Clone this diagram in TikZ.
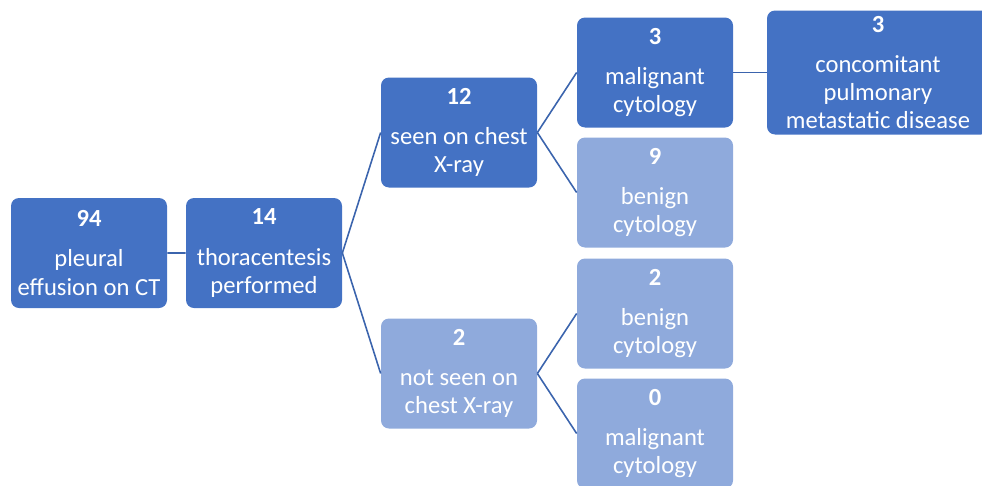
\documentclass[tikz,border=0pt]{standalone}
\usepackage{fontspec}
\setmainfont{Carlito}
\usepackage{xcolor}
\usepackage{tikz}
\usetikzlibrary{positioning,trees}
\definecolor{darkblue}{HTML}{4472C4}
\definecolor{lightblue}{HTML}{8FAADC}
\definecolor{linkblue}{HTML}{3B64AD}
\newcommand{\cnt}[1]{\textbf{#1}\\[0.24cm]}

\begin{document}
\begin{tikzpicture}
[font={\fontsize{14}{16}\selectfont}, grow'=right,
    every node/.style={fill=darkblue, text=white, rectangle,
    rounded corners=0.16cm, minimum width=3.12cm, minimum height=2.2cm,
    inner sep=0pt, align=center},
    edge from parent/.style={draw=linkblue, line width=0.9pt},
    edge from parent path={(\tikzparentnode.east) -- (\tikzchildnode.west)},
    level 1/.style={level distance=3.5cm},
    level 2/.style={level distance=3.9cm, sibling distance=4.82cm},
    level 3/.style={level distance=3.92cm, sibling distance=2.4cm},
    level 4/.style={level distance=4.46cm}
    ]
    \useasboundingbox (0,0) rectangle (19.64,-9.7);

    \node (ct) at (1.78,-5.06) { \cnt{94}pleural\\effusion on CT }
    child { node (thora) { \cnt{14}thoracentesis\\performed }
        child { node (seen) { \cnt{12}seen on chest\\X-ray }
            child { node (malig) { \cnt{3}malignant\\cytology }
                child { node (meta) [minimum width=4.44cm, minimum height=2.48cm]
                    { \cnt{3}concomitant\\pulmonary\\metastatic disease } } }
            child { node (benign) [fill=lightblue] { \cnt{9}benign\\cytology } } }
        child { node (notseen) [fill=lightblue] { \cnt{2}not seen on\\chest X-ray }
            child { node (benign2) [fill=lightblue] { \cnt{2}benign\\cytology } }
            child { node (malig2) [fill=lightblue] { \cnt{0}malignant\\cytology } } }
    };
\end{tikzpicture}
\end{document}
